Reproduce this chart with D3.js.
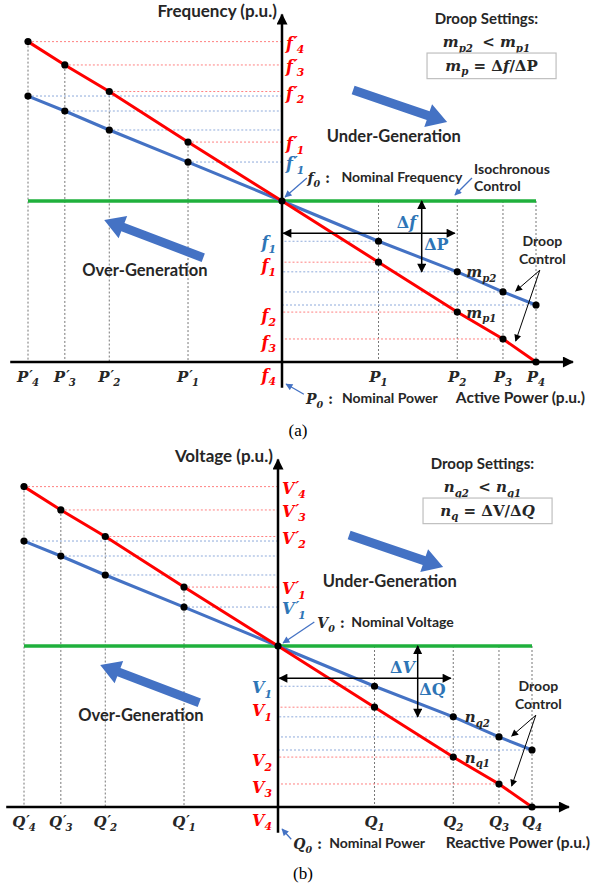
<!DOCTYPE html>
<html>
<head>
<meta charset="utf-8">
<script src="https://cdn.jsdelivr.net/npm/d3@7"></script>
<style>
body { margin: 0; background: #fff; }
svg text { font-family: Lato, "Open Sans", sans-serif; }
</style>
</head>
<body>
<div id="chart"></div>
<script>
var width = 592;
var height = 888;

// droop characteristic points (P4 = 1, nominal -> axis = 1)
var powerRight = [0.38, 0.69, 0.87, 1.0];      // P1..P4
var powerLeft = [-0.37, -0.68, -0.855, -1.0];  // P'1..P'4
var steepRight = [-0.38, -0.69, -0.857, -1.0]; // red line (m_p1)
var steepLeft = [0.366, 0.68, 0.845, 0.99];
var flatRight = [-0.25, -0.44, -0.565, -0.646]; // blue line (m_p2)
var flatLeft = [0.242, 0.441, 0.559, 0.652];
var tickNums = ["1", "2", "3", "4"];

// per-panel texts
var panelNames = ["(a)", "(b)"];
var yVars = ["f", "V"];
var xVars = ["P", "Q"];
var yTitles = ["Frequency (p.u.)", "Voltage (p.u.)"];
var xTitles = ["Active Power (p.u.)", "Reactive Power (p.u.)"];
var nominalTexts = ["Nominal Frequency", "Nominal Voltage"];
var coefVars = ["m", "n"];
var coefSubs = ["p", "q"];

var red = "#ff0000";
var blue = "#4472c4";
var labelBlue = "#2e75b6";
var green = "#1fb03c";
var ink = "#262626";
var serif = "'DejaVu Serif', 'Liberation Serif', serif";

var panels = [
    { ox: 282, oy: 201, capY: 432, capX: 298, nomX: 0.1, q0X: 0.094, arrowFrom: [0.098, 0.143], arrowTo: [0.012, 0.025], xTitleEnd: 1.193, iso: true },
    { ox: 278, oy: 646, capY: 875, capX: 303, nomX: 0.155, q0X: 0.06, arrowFrom: [0.143, 0.149], arrowTo: [0.02, 0.019], xTitleEnd: 1.228, iso: false }
];

var svg = d3.select("#chart").append("svg")
    .attr("width", width)
    .attr("height", height);

var defs = svg.append("defs");
function addMarker(id, color, w, h) {
    defs.append("marker")
        .attr("id", id)
        .attr("viewBox", "0 0 10 10")
        .attr("refX", 9).attr("refY", 5)
        .attr("markerUnits", "userSpaceOnUse")
        .attr("markerWidth", w).attr("markerHeight", h)
        .attr("orient", "auto-start-reverse")
        .append("path")
        .attr("d", "M0,0 L10,5 L0,10 z")
        .attr("fill", color);
}
addMarker("headAxis", "#000", 13, 11);
addMarker("headBlack", "#000", 10, 9);
addMarker("headSmall", "#000", 8, 7);
addMarker("headBlue", blue, 8, 7);

// text with italic/subscript/upright pieces
function richText(g, x, y, segs, size, color, anchor) {
    var t = g.append("text")
        .attr("x", x).attr("y", y)
        .attr("text-anchor", anchor || "start")
        .attr("fill", color)
        .attr("font-size", size)
        .style("font-family", serif)
        .style("font-weight", "bold");
    var shift = 0;
    segs.forEach(function(s) {
        var want = s.sub ? size * 0.28 : (s.sup ? -size * 0.12 : 0);
        var sp = t.append("tspan").text(s.t)
            .attr("dy", want - shift)
            .style("font-style", s.up ? "normal" : "italic");
        if (s.sub) sp.attr("font-size", size * 0.68);
        if (s.sup) sp.attr("font-size", size * 0.9);
        if (s.dx) sp.attr("dx", s.dx);
        shift = want;
    });
    return t;
}

function varLabel(v, num, prime) {
    var segs = [{ t: v }];
    if (prime) {
        segs.push({ t: "\u2032", sup: true, dx: 1 });
        segs.push({ t: num, sub: true, dx: -1 });
    } else {
        segs.push({ t: num, sub: true });
    }
    return segs;
}

function bigArrow(g, x1, y1, x2, y2) {
    var len = Math.hypot(x2 - x1, y2 - y1);
    var ang = Math.atan2(y2 - y1, x2 - x1) * 180 / Math.PI;
    var w = 9, hw = 24, hl = 20;
    var pts = [[0, -w / 2], [len - hl, -w / 2], [len - hl, -hw / 2], [len, 0],
               [len - hl, hw / 2], [len - hl, w / 2], [0, w / 2]];
    g.append("path")
        .attr("d", "M" + pts.join("L") + "Z")
        .attr("fill", blue)
        .attr("transform", "translate(" + x1 + "," + y1 + ") rotate(" + ang + ")");
}

function sansText(g, x, y, str, size, anchor) {
    return g.append("text")
        .attr("x", x).attr("y", y)
        .attr("text-anchor", anchor || "middle")
        .attr("dominant-baseline", "middle")
        .attr("font-size", size)
        .attr("font-weight", "bold")
        .attr("fill", ink)
        .text(str);
}

panels.forEach(function(p, k) {
    var g = svg.append("g");
    var x = d3.scaleLinear().domain([-1, 1]).range([p.ox - 254, p.ox + 254]);
    var y = d3.scaleLinear().domain([-1, 1]).range([p.oy + 161, p.oy - 161]);
    var yv = yVars[k], xv = xVars[k];

    var right = powerRight.map(function(d, i) { return { x: d, red: steepRight[i], blue: flatRight[i], i: i }; });
    var left = powerLeft.map(function(d, i) { return { x: d, red: steepLeft[i], blue: flatLeft[i], i: i }; });

    // vertical guides
    g.selectAll(".vl").data(left).enter().append("line")
        .attr("x1", d => x(d.x)).attr("x2", d => x(d.x))
        .attr("y1", d => y(d.red)).attr("y2", y(-1))
        .attr("stroke", "#777").attr("stroke-width", 1).attr("stroke-dasharray", "2,2");
    g.selectAll(".vr").data(right).enter().append("line")
        .attr("x1", d => x(d.x)).attr("x2", d => x(d.x))
        .attr("y1", y(0)).attr("y2", y(-1))
        .attr("stroke", "#777").attr("stroke-width", 1).attr("stroke-dasharray", "2,2");

    // horizontal guides
    var all = left.concat(right);
    g.selectAll(".hr").data(all).enter().append("line")
        .attr("x1", d => x(d.x)).attr("x2", x(0))
        .attr("y1", d => y(d.red)).attr("y2", d => y(d.red))
        .attr("stroke", "#ff8080").attr("stroke-width", 1).attr("stroke-dasharray", "2,2");
    g.selectAll(".hb").data(all).enter().append("line")
        .attr("x1", d => x(d.x)).attr("x2", x(0))
        .attr("y1", d => y(d.blue)).attr("y2", d => y(d.blue))
        .attr("stroke", "#8eaadb").attr("stroke-width", 1).attr("stroke-dasharray", "2,2");

    // isochronous line
    g.append("line")
        .attr("x1", x(-1)).attr("x2", x(1))
        .attr("y1", y(0)).attr("y2", y(0))
        .attr("stroke", green).attr("stroke-width", 3.5);

    // droop lines
    var leftRev = left.slice().reverse();
    var origin = { x: 0, red: 0, blue: 0 };
    var seq = leftRev.concat([origin], right);
    g.append("path").datum(seq)
        .attr("d", d3.line().x(d => x(d.x)).y(d => y(d.blue)))
        .attr("fill", "none").attr("stroke", blue).attr("stroke-width", 3);
    g.append("path").datum(seq)
        .attr("d", d3.line().x(d => x(d.x)).y(d => y(d.red)))
        .attr("fill", "none").attr("stroke", red).attr("stroke-width", 3);

    // axes
    g.append("line")
        .attr("x1", x(-1.07)).attr("x2", x(1.145))
        .attr("y1", y(-1)).attr("y2", y(-1))
        .attr("stroke", "#000").attr("stroke-width", 2.5)
        .attr("marker-end", "url(#headAxis)");
    g.append("line")
        .attr("x1", x(0)).attr("x2", x(0))
        .attr("y1", y(-1.16)).attr("y2", y(1.158))
        .attr("stroke", "#000").attr("stroke-width", 2.5)
        .attr("marker-end", "url(#headAxis)");

    // points
    var dots = [];
    all.forEach(function(d) { dots.push([d.x, d.red]); dots.push([d.x, d.blue]); });
    dots.push([0, 0]);
    g.selectAll(".dot").data(dots).enter().append("circle")
        .attr("cx", d => x(d[0])).attr("cy", d => y(d[1]))
        .attr("r", 3.6).attr("fill", "#000");

    // tick labels on the power axis
    left.forEach(function(d) {
        richText(g, x(d.x), y(-1) + 20, varLabel(xv, tickNums[d.i], true), 15, ink, "middle");
    });
    right.forEach(function(d) {
        richText(g, x(d.x), y(-1) + 20, varLabel(xv, tickNums[d.i], false), 15, ink, "middle");
    });

    // labels on the vertical axis
    var lx = x(0) + 4;
    left.forEach(function(d) {
        richText(g, lx, y(d.red) + 7, varLabel(yv, tickNums[d.i], true), 16, red, "start");
    });
    richText(g, lx, y(left[0].blue) + 7, varLabel(yv, "1", true), 16, labelBlue, "start");
    var rx = x(0) - 6;
    richText(g, rx, y(right[0].blue) + 7, varLabel(yv, "1", false), 16, labelBlue, "end");
    right.forEach(function(d) {
        var yy = d.i === 3 ? y(d.red) + 19 : y(d.red) + 9;
        richText(g, rx, yy, varLabel(yv, tickNums[d.i], false), 16, red, "end");
    });

    // axis titles
    sansText(g, x(-0.02), y(1.168), yTitles[k], 17, "end");
    sansText(g, x(p.xTitleEnd), y(-1.232), xTitles[k], 15.5, "end");
    richText(g, x(p.q0X), y(-1.232) + 5, [{ t: xv }, { t: "0", sub: true }, { t: " :", up: true }], 14, ink, "start");
    sansText(g, x(p.q0X) + 36, y(-1.232), "Nominal Power", 14, "start");
    g.append("line")
        .attr("x1", x(p.q0X) - 2).attr("y1", y(-1.2))
        .attr("x2", x(0.016)).attr("y2", y(-1.137))
        .attr("stroke", blue).attr("stroke-width", 1.3)
        .attr("marker-end", "url(#headBlue)");

    // nominal value pointer
    richText(g, x(p.nomX), y(0.143) + 5, [{ t: yv }, { t: "0", sub: true }, { t: " :", up: true }], 14, ink, "start");
    sansText(g, x(p.nomX) + 34, y(0.143), nominalTexts[k], 14, "start");
    g.append("line")
        .attr("x1", x(p.arrowFrom[0])).attr("y1", y(p.arrowFrom[1]))
        .attr("x2", x(p.arrowTo[0])).attr("y2", y(p.arrowTo[1]))
        .attr("stroke", blue).attr("stroke-width", 1.3)
        .attr("marker-end", "url(#headBlue)");

    if (p.iso) {
        sansText(g, x(0.756), y(0.193), "Isochronous", 14, "start");
        sansText(g, x(0.756), y(0.087), "Control", 14, "start");
        g.append("line")
            .attr("x1", x(0.748)).attr("y1", y(0.143))
            .attr("x2", x(0.681)).attr("y2", y(0.037))
            .attr("stroke", blue).attr("stroke-width", 1.3)
            .attr("marker-end", "url(#headBlue)");
    }

    // droop settings box
    var cs = coefVars[k], cb = coefSubs[k];
    sansText(g, x(0.805), y(1.124), "Droop Settings:", 15, "middle");
    richText(g, x(0.805), y(0.985) + 5, [{ t: cs }, { t: cb + "2", sub: true }, { t: " < ", up: true, dx: 4 }, { t: cs }, { t: cb + "1", sub: true }], 15, ink, "middle");
    g.append("rect")
        .attr("x", x(0.571)).attr("y", y(0.919))
        .attr("width", x(1.079) - x(0.571)).attr("height", y(0.76) - y(0.919))
        .attr("fill", "#fff").attr("stroke", "#bfbfbf").attr("stroke-width", 1.2);
    var formula = k === 0
        ? [{ t: "m" }, { t: "p", sub: true }, { t: " = \u0394", up: true }, { t: "f" }, { t: "/\u0394P", up: true }]
        : [{ t: "n" }, { t: "q", sub: true }, { t: " = \u0394V/\u0394", up: true }, { t: "Q" }];
    richText(g, x(0.825), y(0.84) + 5, formula, 15, ink, "middle");

    // generation arrows
    bigArrow(g, x(0.28), y(0.69), x(0.65), y(0.49));
    sansText(g, x(0.44), y(0.395), "Under-Generation", 16.5, "middle");
    bigArrow(g, x(-0.31), y(-0.352), x(-0.70), y(-0.118));
    sansText(g, x(-0.54), y(-0.44), "Over-Generation", 16.5, "middle");

    // delta arrows
    g.append("line")
        .attr("x1", x(0.55)).attr("x2", x(0.55))
        .attr("y1", y(0)).attr("y2", y(-0.44))
        .attr("stroke", "#000").attr("stroke-width", 1.5)
        .attr("marker-start", "url(#headBlack)").attr("marker-end", "url(#headBlack)");
    g.append("line")
        .attr("x1", x(0.005)).attr("x2", x(0.68))
        .attr("y1", y(-0.2)).attr("y2", y(-0.2))
        .attr("stroke", "#000").attr("stroke-width", 1.5)
        .attr("marker-start", "url(#headBlack)").attr("marker-end", "url(#headBlack)");
    var dY = k === 0 ? [{ t: "\u0394", up: true }, { t: "f" }] : [{ t: "\u0394", up: true }, { t: "V" }];
    var dX = k === 0 ? [{ t: "\u0394P", up: true }] : [{ t: "\u0394Q", up: true }];
    richText(g, x(0.49), y(-0.13) + 6, dY, 16, labelBlue, "middle");
    richText(g, x(0.608), y(-0.27) + 6, dX, 16, labelBlue, "middle");

    // slope labels
    richText(g, x(0.785), y(-0.45) + 4, [{ t: cs }, { t: cb + "2", sub: true }], 15, ink, "middle");
    richText(g, x(0.785), y(-0.70) + 4, [{ t: cs }, { t: cb + "1", sub: true }], 15, ink, "middle");

    // droop control callout
    sansText(g, x(1.025), y(-0.26), "Droop", 14, "middle");
    sansText(g, x(1.025), y(-0.37), "Control", 14, "middle");
    [[0.92, -0.56], [0.92, -0.87]].forEach(function(e) {
        g.append("line")
            .attr("x1", x(1.015)).attr("y1", y(-0.43))
            .attr("x2", x(e[0])).attr("y2", y(e[1]))
            .attr("stroke", "#000").attr("stroke-width", 1)
            .attr("marker-end", "url(#headSmall)");
    });

    // caption
    g.append("text")
        .attr("x", p.capX).attr("y", p.capY)
        .attr("text-anchor", "middle").attr("dominant-baseline", "middle")
        .attr("font-size", 17).style("font-family", "'Liberation Serif', serif")
        .attr("fill", "#000")
        .text(panelNames[k]);
});
</script>
</body>
</html>
